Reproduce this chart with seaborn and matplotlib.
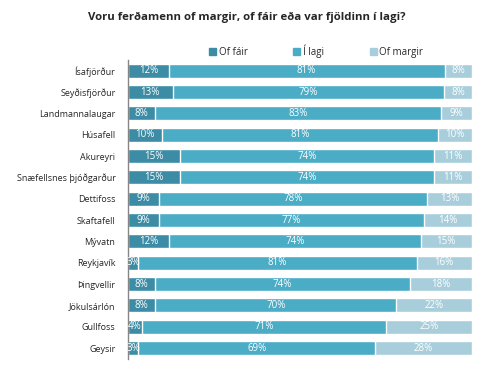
import numpy as np
import pandas as pd
import matplotlib
matplotlib.use("Agg")
import matplotlib.pyplot as plt
import seaborn as sns

# Data
places = ['Ísafjörður', 'Seyðisfjörður', 'Landmannalaugar', 'Húsafell', 'Akureyri',
          'Snæfellsnes þjóðgarður', 'Dettifoss', 'Skaftafell', 'Mývatn', 'Reykjavík',
          'Þingvellir', 'Jökulsárlón', 'Gullfoss', 'Geysir']
of_fair = [12, 13, 8, 10, 15, 15, 9, 9, 12, 3, 8, 8, 4, 3]
i_lagi = [81, 79, 83, 81, 74, 74, 78, 77, 74, 81, 74, 70, 71, 69]
of_margir = [8, 8, 9, 10, 11, 11, 13, 14, 15, 16, 18, 22, 25, 28]
series_names = ['Of fáir', 'Í lagi', 'Of margir']
colors = ['#3b8ca4', '#4bacc6', '#a9cedb']

sns.set_style("white")
plt.rcParams['font.family'] = ['Open Sans', 'DejaVu Sans']

df = pd.DataFrame({'place': places, 'fair': of_fair, 'lagi': i_lagi, 'margir': of_margir})
total = df[['fair', 'lagi', 'margir']].sum(axis=1)
# Excel 100% stacked: normalise each row
df['p_fair'] = df['fair'] / total
df['p_lagi'] = df['lagi'] / total
df['p_margir'] = df['margir'] / total
df['c1'] = df['p_fair']
df['c2'] = df['p_fair'] + df['p_lagi']
df['c3'] = df['c2'] + df['p_margir']

fig = plt.figure(figsize=(4.94, 3.66), dpi=100)
ax = fig.add_axes([0.259, 0.02, 0.696, 0.816])

# overlapping cumulative bars give a stacked look
sns.barplot(data=df, x='c3', y='place', color=colors[2], width=0.66, ax=ax, saturation=1)
sns.barplot(data=df, x='c2', y='place', color=colors[1], width=0.66, ax=ax, saturation=1)
sns.barplot(data=df, x='c1', y='place', color=colors[0], width=0.66, ax=ax, saturation=1)

for i, row in df.iterrows():
    starts = [0, row['c1'], row['c2']]
    widths = [row['p_fair'], row['p_lagi'], row['p_margir']]
    vals = [row['fair'], row['lagi'], row['margir']]
    for s, w, v in zip(starts, widths, vals):
        ax.text(s + w / 2, i, f'{v}%', ha='center', va='center', color='white', fontsize=7)

ax.set_xlim(0, 1)
ax.set_ylim(13.5, -0.5)
ax.set_xlabel('')
ax.set_ylabel('')
ax.set_xticks([])
ax.tick_params(axis='y', length=0, pad=9, labelsize=6.5)
for s in ['top', 'right', 'bottom']:
    ax.spines[s].set_visible(False)
ax.spines['left'].set_color('#868686')
ax.spines['left'].set_linewidth(1)

fig.text(0.5, 0.953, 'Voru ferðamenn of margir, of fáir eða var fjöldinn í lagi?',
         ha='center', va='center', fontsize=8.2, fontweight='bold')

handles = [plt.Rectangle((0, 0), 1, 1, color=c) for c in colors]
fig.legend(handles, series_names, loc='center', bbox_to_anchor=(0.64, 0.861), ncol=3,
           frameon=False, fontsize=7, handlelength=0.7, handleheight=0.7,
           handletextpad=0.3, columnspacing=4.7)

fig.savefig('out.png', dpi=100)
